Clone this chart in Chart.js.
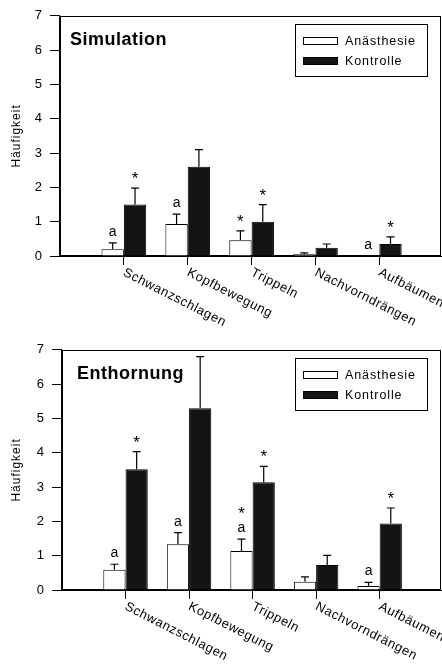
<!DOCTYPE html>
<html><head><meta charset="utf-8">
<script src="https://cdn.jsdelivr.net/npm/chart.js@4.4.1/dist/chart.umd.min.js"></script>
<style>
body{margin:0;background:#fff;width:442px;height:669px;overflow:hidden}
.w{position:absolute;left:0;width:442px}
</style></head><body>
<div class="w" style="top:0;height:334px"><canvas id="c1" width="442" height="334"></canvas></div>
<div class="w" style="top:334px;height:335px"><canvas id="c2" width="442" height="335"></canvas></div>
<script>
const categories = ['Schwanzschlagen','Kopfbewegung','Trippeln','Nachvorndrängen','Aufbäumen'];
const seriesNames = ['Anästhesie','Kontrolle'];
const yTitle = 'Häufigkeit';
const yMax = 7;

// Simulation
const simAnae   = [0.20, 0.93, 0.46, 0.05, 0.00];
const simAnaeSE = [0.18, 0.29, 0.27, 0.04, 0.00];
const simKontr   = [1.50, 2.60, 1.00, 0.24, 0.35];
const simKontrSE = [0.48, 0.50, 0.50, 0.11, 0.21];
const simAnaeAnn  = ['a','a','*','','a'];
const simKontrAnn = ['*','','*','','*'];

// Enthornung
const entAnae   = [0.59, 1.33, 1.14, 0.24, 0.12];
const entAnaeSE = [0.16, 0.34, 0.34, 0.14, 0.10];
const entKontr   = [3.52, 5.30, 3.14, 0.73, 1.94];
const entKontrSE = [0.51, 1.50, 0.46, 0.28, 0.45];
const entAnaeAnn  = ['a','a','*\na','','a'];
const entKontrAnn = ['*','','*','','*'];

const FONT = '"Liberation Sans", Arial, Helvetica, sans-serif';

function makeChart(id, title, anae, anaeSE, kontr, kontrSE, annA, annK, yW, h) {
  const ses = [anaeSE, kontrSE];
  const anns = [annA, annK];
  const deco = {
    id: 'deco',
    afterDatasetsDraw(chart) {
      const ctx = chart.ctx, ys = chart.scales.y;
      chart.data.datasets.forEach((ds, di) => {
        const meta = chart.getDatasetMeta(di);
        meta.data.forEach((bar, i) => {
          const v = ds.data[i].y;
          const top = ys.getPixelForValue(v + ses[di][i]);
          const by = ys.getPixelForValue(v);
          ctx.save();
          ctx.strokeStyle = '#000'; ctx.lineWidth = 1.2;
          if (ses[di][i] > 0) {
            ctx.beginPath();
            ctx.moveTo(bar.x, by); ctx.lineTo(bar.x, top);
            ctx.moveTo(bar.x - 4, top); ctx.lineTo(bar.x + 4, top);
            ctx.stroke();
          }
          const lines = anns[di][i] ? anns[di][i].split('\n').reverse() : [];
          ctx.fillStyle = '#000'; ctx.textAlign = 'center'; ctx.textBaseline = 'alphabetic';
          let base = top - 7;
          lines.forEach(t => {
            ctx.font = (t === '*' ? '17px ' : '14px ') + FONT;
            ctx.fillText(t, bar.x, t === '*' ? base + 3 : base);
            base -= 16;
          });
          ctx.restore();
        });
      });
    },
    afterDraw(chart) {
      const ctx = chart.ctx, ca = chart.chartArea, xs = chart.scales.x;
      ctx.save();
      ctx.strokeStyle = '#000'; ctx.lineWidth = 1;
      ctx.strokeRect(Math.round(ca.left) + 0.5, Math.round(ca.top) + 0.5,
        Math.round(ca.right - ca.left), Math.round(ca.bottom - ca.top));
      // title
      ctx.fillStyle = '#000';
      ctx.font = 'bold 18px ' + FONT;
      ctx.letterSpacing = '0.5px';
      ctx.textAlign = 'left'; ctx.textBaseline = 'middle';
      ctx.fillText(title, yW + 10 + (title === 'Enthornung' ? 5 : 0), 40);
      // legend
      const lx = 295, ly = 24, lw = 132, lh = 52;
      ctx.lineWidth = 1;
      ctx.strokeRect(lx + 0.5, ly + 0.5, lw, lh);
      ctx.font = '12.5px ' + FONT;
      ctx.letterSpacing = '0.9px';
      chart.data.datasets.forEach((ds, di) => {
        const sy = ly + 13 + di * 20;
        ctx.fillStyle = ds.backgroundColor;
        ctx.fillRect(lx + 8, sy, 35, 8);
        ctx.strokeStyle = '#000';
        ctx.strokeRect(lx + 8.5, sy + 0.5, 34, 7);
        ctx.fillStyle = '#000';
        ctx.textBaseline = 'middle';
        ctx.fillText(ds.label, lx + 50, sy + 4.5);
      });
      // y title
      ctx.save();
      ctx.translate(17, (ca.top + ca.bottom) / 2);
      ctx.rotate(-Math.PI / 2);
      ctx.textAlign = 'center'; ctx.textBaseline = 'middle';
      ctx.font = '12px ' + FONT;
      ctx.letterSpacing = '1px';
      ctx.fillText(yTitle, 0, 0);
      ctx.restore();
      // x labels
      ctx.font = '13px ' + FONT;
      ctx.letterSpacing = '0.6px';
      categories.forEach((c, i) => {
        const x = xs.getPixelForValue(i + 1);
        ctx.save();
        ctx.translate(x + 3, ca.bottom + 10);
        ctx.rotate(27 * Math.PI / 180);
        ctx.textAlign = 'left'; ctx.textBaseline = 'top';
        ctx.fillText(c, 0, 0);
        ctx.restore();
      });
      // extend x axis line to canvas edge
      ctx.beginPath();
      ctx.moveTo(ca.right, Math.round(ca.bottom) + 0.5);
      ctx.lineTo(chart.width, Math.round(ca.bottom) + 0.5);
      ctx.stroke();
      ctx.restore();
    }
  };
  return new Chart(document.getElementById(id), {
    type: 'bar',
    data: {
      datasets: [
        { label: seriesNames[0], data: anae.map((v, i) => ({x: i + 1, y: v})),
          backgroundColor: '#ffffff', borderColor: '#000', borderWidth: 1 },
        { label: seriesNames[1], data: kontr.map((v, i) => ({x: i + 1, y: v})),
          backgroundColor: '#141414', borderColor: '#000', borderWidth: 1 }
      ]
    },
    options: {
      responsive: false, animation: false, devicePixelRatio: 1,
      categoryPercentage: 0.7, barPercentage: 1.0,
      layout: { padding: { top: 15, right: 2, left: 0, bottom: 0 } },
      plugins: { legend: { display: false }, tooltip: { enabled: false } },
      scales: {
        x: {
          type: 'linear', min: 0, max: 5.95, offset: false,
          afterBuildTicks(s) { s.ticks = categories.map((c, i) => ({value: i + 1})); },
          afterFit(s) { s.height = h - 256; },
          ticks: { display: false },
          grid: { offset: false, drawOnChartArea: false, drawTicks: true, tickLength: 9, color: '#000', lineWidth: 1 },
          border: { display: true, color: '#000', width: 1.2 }
        },
        y: {
          min: 0, max: yMax,
          afterFit(s) { s.width = yW; },
          ticks: { stepSize: 1, color: '#000', padding: 8, font: { family: FONT, size: 13 } },
          grid: { drawOnChartArea: false, drawTicks: true, tickLength: 10, color: '#000', lineWidth: 1 },
          border: { display: true, color: '#000', width: 1.2 }
        }
      }
    },
    plugins: [deco]
  });
}

makeChart('c1', 'Simulation', simAnae, simAnaeSE, simKontr, simKontrSE, simAnaeAnn, simKontrAnn, 60, 334);
makeChart('c2', 'Enthornung', entAnae, entAnaeSE, entKontr, entKontrSE, entAnaeAnn, entKontrAnn, 62, 335);
</script>
</body></html>
